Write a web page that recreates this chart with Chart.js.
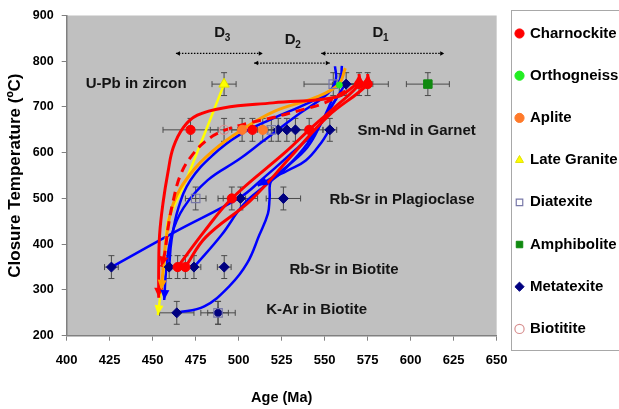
<!DOCTYPE html>
<html>
<head>
<meta charset="utf-8">
<script src="https://cdn.jsdelivr.net/npm/chart.js@4.4.0/dist/chart.umd.min.js"></script>
<style>
html,body{margin:0;padding:0;background:#fff;}
#wrap{width:619px;height:409px;position:relative;}
canvas{display:block;}
</style>
</head>
<body>
<div id="wrap"><canvas id="c" width="619" height="409"></canvas></div>
<script>
// ---------------- DATA (age in Ma, closure temperature in °C) ----------------
const ageTicks = [400, 425, 450, 475, 500, 525, 550, 575, 600, 625, 650];
const tempTicks = [200, 300, 400, 500, 600, 700, 800, 900];
const tempErr = 25;

const charnockiteAge  = [472, 508, 541, 570, 575, 496, 464.5, 469];
const charnockiteTemp = [650, 650, 650, 750, 750, 500, 350, 350];
const charnockiteErr  = [16, 8, 8, 8, 12, 8, 4, 4];

const orthogneissAge  = [558.5];
const orthogneissTemp = [748];
const orthogneissErr  = [4];

const apliteAge  = [502, 514];
const apliteTemp = [650, 650];
const apliteErr  = [6, 6];

const lateGraniteAge  = [491.5];
const lateGraniteTemp = [750];
const lateGraniteErr  = [7];

const diatexiteAge  = [519, 555, 475, 488];
const diatexiteTemp = [650, 750, 500, 250];
const diatexiteErr  = [8, 17, 6, 10];

const amphiboliteAge  = [610];
const amphiboliteTemp = [750];
const amphiboliteErr  = [12.5];

const metatexiteAge  = [523, 528, 533, 553, 562.5, 501, 526, 426, 459.6, 474, 491.6, 464, 488];
const metatexiteTemp = [650, 650, 650, 650, 750, 500, 500, 350, 350, 350, 350, 250, 250];
const metatexiteErr  = [6, 6, 6, 4, 6, 10, 10, 4, 4, 4, 4, 10, 6];

const biotititeAge  = [491.5];
const biotititeTemp = [650];
const biotititeErr  = [8];

// cooling paths: [age, temperature]
const pathRedA = [[568,748],[557,722],[520,709],[491,698],[476,682],[468,656],[462,612],[459,560],[456,490],[454,420],[453.5,345],[453.5,283]];
const pathRedDashed = [[562,735],[550,709],[534,691],[520,677],[507,666],[491,648],[481,626],[472,590],[466,550],[462,496],[459,437],[457,380],[455,351]];
const pathRedB = [[570,772],[570,750],[556,700],[541,650],[528,604],[496,500],[480,428],[464.5,350]];
const pathRedC = [[575,772],[575,750],[552,680],[530,590],[507,496],[481,416],[469,350]];
const pathOrange = [[562,785],[558,749],[544,720],[521,691],[501,648],[485,604],[472,554],[462,489],[458,416],[456,343],[455,300]];
const pathYellow = [[491.5,750],[470,545],[459,452],[456.5,350],[453,245]];
const pathBlueA = [[556,789],[556.5,760],[552,730],[534,682],[514,625],[500,585],[482,540],[468,480],[461,420],[458,350],[456.7,278]];
const pathBlueB = [[560,790],[559,760],[553,735],[540,708],[520,675],[500,638],[485,595],[472,540],[465,480],[461,410],[459.6,350]];
const pathBlueC = [[554,713],[548,665],[540,612],[528,570],[520,547],[511,528]];
const pathBlueLoop = [[553,652],[548,622],[539,583],[528,560],[519,539],[518,500],[517,467],[512,420],[505,359],[495,310],[480,264],[464,250]];
const pathBlueD = [[426,350],[463,427],[501,503],[513,540],[528,590],[545,650],[557,720]];
const pathBlueE = [[474,350],[490,420],[503,488],[516,530],[526,561],[540,620],[562,750]];

// deformation periods
const deformationNames = ['1', '2', '3'];
const deformationStart = [548, 509, 463.5];
const deformationEnd   = [619.5, 553, 514];
const deformationTemp  = [817, 796, 817];
const deformationLabelAge  = [581, 530, 489];
const deformationLabelTemp = [861, 846, 861];

// thermochronometer labels
const regionLabels = ['U-Pb in zircon', 'Sm-Nd in Garnet', 'Rb-Sr in Plagioclase', 'Rb-Sr in Biotite', 'K-Ar in Biotite'];
const regionAge  = [440.4, 603.5, 595, 561.3, 545.3];
const regionTemp = [750, 648, 496, 343, 256.5];

// ---------------- BUILD ----------------
const FONT = '"Liberation Sans", Arial, sans-serif';
const pts = (a, t) => a.map((v, i) => ({x: v, y: t[i]}));
const pairs = p => p.map(([x, y]) => ({x, y}));

function markers(label, age, temp, err, style, radius, bg, border, bw) {
  return {label, data: pts(age, temp), errX: err, pointStyle: style, pointRadius: radius,
    pointHoverRadius: radius, backgroundColor: bg, borderColor: border, pointBackgroundColor: bg,
    pointBorderColor: border, pointBorderWidth: bw, borderWidth: bw, showLine: false, order: 0};
}
function path(label, p, color, width, opts) {
  return Object.assign({label, data: pairs(p), showLine: true, borderColor: color, backgroundColor: color,
    borderWidth: width, pointRadius: 0, pointHoverRadius: 0, tension: 0.4, fill: false, order: 1}, opts || {});
}

const markerSets = [
  markers('Charnockite', charnockiteAge, charnockiteTemp, charnockiteErr, 'circle', 4.6, '#ff0000', '#ff0000', 1),
  markers('Orthogneiss', orthogneissAge, orthogneissTemp, orthogneissErr, 'circle', 3, '#22ee22', '#22ee22', 1),
  markers('Aplite', apliteAge, apliteTemp, apliteErr, 'circle', 4.6, '#ff7a2a', '#ff7a2a', 1),
  markers('Late Granite', lateGraniteAge, lateGraniteTemp, lateGraniteErr, 'triangle', 6, '#ffff00', '#e0e000', 1),
  markers('Diatexite', diatexiteAge, diatexiteTemp, diatexiteErr, 'rect', 6, 'rgba(255,255,255,0)', '#7878a8', 1.2),
  markers('Amphibolite', amphiboliteAge, amphiboliteTemp, amphiboliteErr, 'rect', 6, '#108a10', '#108a10', 1),
  markers('Metatexite', metatexiteAge, metatexiteTemp, metatexiteErr, 'rectRot', 5, '#000080', '#000080', 1),
  markers('Biotitite', biotititeAge, biotititeTemp, biotititeErr, 'circle', 4.6, 'rgba(255,255,255,0)', '#d89090', 1.2)
];
const legendCount = markerSets.length;

const pathSets = [
  path('pRedA', pathRedA, '#ff0000', 3, {arrowEnd: true}),
  path('pRedDash', pathRedDashed, '#ff0000', 3, {borderDash: [9, 6], arrowEnd: true}),
  path('pRedB', pathRedB, '#ff0000', 3, {arrowStart: true}),
  path('pRedC', pathRedC, '#ff0000', 3, {arrowStart: true}),
  path('pOrange', pathOrange, '#ffa000', 3, {arrowEnd: true}),
  path('pYellow', pathYellow, '#ffff00', 2.5, {arrowEnd: true, tension: 0.2}),
  path('pBlueA', pathBlueA, '#0000ff', 2.5, {arrowEnd: true}),
  path('pBlueB', pathBlueB, '#0000ff', 2.5),
  path('pBlueC', pathBlueC, '#0000ff', 2.5, {arrowEnd: true}),
  path('pBlueLoop', pathBlueLoop, '#0000ff', 2.5),
  path('pBlueD', pathBlueD, '#0000ff', 2.5),
  path('pBlueE', pathBlueE, '#0000ff', 2.5)
];

const periodSets = deformationNames.map((n, i) => ({
  label: 'D' + n, data: [{x: deformationStart[i], y: deformationTemp[i]}, {x: deformationEnd[i], y: deformationTemp[i]}],
  showLine: true, borderColor: '#000', borderWidth: 1.3, borderDash: [1.5, 1.5], pointRadius: 0,
  tension: 0, arrowBoth: true, order: 2
}));

// ---------------- PLUGINS ----------------
function arrowHead(ctx, tx, ty, dx, dy, color, len, w) {
  const L = Math.hypot(dx, dy) || 1; const ux = dx / L, uy = dy / L;
  const bx = tx - ux * len, by = ty - uy * len;
  ctx.fillStyle = color;
  ctx.beginPath(); ctx.moveTo(tx, ty);
  ctx.lineTo(bx - uy * w, by + ux * w); ctx.lineTo(bx + uy * w, by - ux * w);
  ctx.closePath(); ctx.fill();
}

const LEGEND_MARKER_X = 519.5, LEGEND_FIRST_Y = 33.5;
const decor = {
  id: 'decor',
  afterLayout(chart) {
    const lg = chart.legend;
    if (!lg) return;
    const lab = chart.options.plugins.legend.labels;
    const nl = LEGEND_MARKER_X - lab.boxWidth / 2 - lab.padding;
    const nt = LEGEND_FIRST_Y - lab.font.size / 2 - lab.padding;
    lg.right += nl - lg.left; lg.left = nl;
    lg.bottom += nt - lg.top; lg.top = nt;
  },
  beforeDraw(chart) {
    const {ctx, chartArea: a} = chart;
    ctx.save(); ctx.fillStyle = '#c0c0c0';
    ctx.fillRect(a.left, a.top, a.right - a.left, a.bottom - a.top);
    ctx.restore();
  },
  beforeDatasetsDraw(chart) {
    const {ctx} = chart; const xs = chart.scales.x, ys = chart.scales.y;
    ctx.save(); ctx.strokeStyle = '#4a4a4a'; ctx.lineWidth = 1;
    chart.data.datasets.forEach(ds => {
      if (!ds.errX) return;
      ds.data.forEach((p, i) => {
        const e = ds.errX[i];
        const x0 = xs.getPixelForValue(p.x - e), x1 = xs.getPixelForValue(p.x + e);
        const px = xs.getPixelForValue(p.x), py = ys.getPixelForValue(p.y);
        const y0 = ys.getPixelForValue(p.y - tempErr), y1 = ys.getPixelForValue(p.y + tempErr);
        const c = 3;
        ctx.beginPath();
        ctx.moveTo(x0, py); ctx.lineTo(x1, py);
        ctx.moveTo(x0, py - c); ctx.lineTo(x0, py + c);
        ctx.moveTo(x1, py - c); ctx.lineTo(x1, py + c);
        ctx.moveTo(px, y0); ctx.lineTo(px, y1);
        ctx.moveTo(px - c, y0); ctx.lineTo(px + c, y0);
        ctx.moveTo(px - c, y1); ctx.lineTo(px + c, y1);
        ctx.stroke();
      });
    });
    ctx.restore();
  },
  afterDatasetsDraw(chart) {
    const {ctx} = chart; const xs = chart.scales.x, ys = chart.scales.y;
    ctx.save();
    chart.data.datasets.forEach((ds, di) => {
      const meta = chart.getDatasetMeta(di);
      const els = meta.data;
      if (ds.arrowEnd && els.length > 1) {
        const p = els[els.length - 1], q = els[els.length - 2];
        let dx = p.x - (p.cp1x !== undefined ? p.cp1x : q.x), dy = p.y - (p.cp1y !== undefined ? p.cp1y : q.y);
        if (Math.hypot(dx, dy) < 0.5) { dx = p.x - q.x; dy = p.y - q.y; }
        arrowHead(ctx, p.x, p.y, dx, dy, ds.borderColor, 10, 4.5);
      }
      if (ds.arrowStart && els.length > 1) {
        const p = els[0], q = els[1];
        let dx = p.x - (p.cp2x !== undefined ? p.cp2x : q.x), dy = p.y - (p.cp2y !== undefined ? p.cp2y : q.y);
        if (Math.hypot(dx, dy) < 0.5) { dx = p.x - q.x; dy = p.y - q.y; }
        arrowHead(ctx, p.x, p.y, dx, dy, ds.borderColor, 8, 4);
      }
      if (ds.arrowBoth && els.length > 1) {
        const a = els[0], b = els[els.length - 1];
        arrowHead(ctx, a.x, a.y, a.x - b.x, a.y - b.y, '#000', 4, 2.2);
        arrowHead(ctx, b.x, b.y, b.x - a.x, b.y - a.y, '#000', 4, 2.2);
      }
    });
    ctx.fillStyle = '#141414'; ctx.textAlign = 'center'; ctx.textBaseline = 'middle';
    ctx.font = 'bold 15px ' + FONT;
    regionLabels.forEach((t, i) => ctx.fillText(t, xs.getPixelForValue(regionAge[i]), ys.getPixelForValue(regionTemp[i])));
    deformationNames.forEach((n, i) => {
      const x = xs.getPixelForValue(deformationLabelAge[i]), y = ys.getPixelForValue(deformationLabelTemp[i]);
      ctx.font = 'bold 15px ' + FONT; ctx.textAlign = 'center';
      ctx.fillText('D', x, y);
      ctx.font = 'bold 10px ' + FONT; ctx.textAlign = 'left';
      ctx.fillText(n, x + 5, y + 5);
    });
    ctx.restore();
  },
  afterDraw(chart) {
    const lg = chart.legend; if (!lg) return;
    const {ctx} = chart;
    const lab = chart.options.plugins.legend.labels;
    const fs = lab.font.size;
    const firstC = lg.top + lab.padding + fs / 2;
    const lastC = firstC + (legendCount - 1) * (fs + lab.padding);
    const left = lg.left + lab.padding + lab.boxWidth / 2 - 8.5;
    ctx.save(); ctx.strokeStyle = '#a8a8a8'; ctx.lineWidth = 1;
    ctx.strokeRect(Math.round(left) + 0.5, Math.round(firstC - 23.5) + 0.5, 200, Math.round(lastC + 21 - (firstC - 23.5)));
    ctx.restore();
  }
};

// ---------------- CHART ----------------
new Chart(document.getElementById('c'), {
  type: 'scatter',
  data: {datasets: [...markerSets, ...pathSets, ...periodSets]},
  options: {
    responsive: false, animation: false, devicePixelRatio: 1,
    layout: {padding: {top: 12.5, left: 0, right: -16.7, bottom: 0}},
    scales: {
      x: {
        type: 'linear', min: 400, max: 650,
        afterBuildTicks: s => { s.ticks = ageTicks.map(v => ({value: v})); },
        afterFit: s => { s.height = 73.3; },
        ticks: {font: {family: FONT, weight: 'bold', size: 13}, color: '#000', padding: 12, maxRotation: 0, autoSkip: false},
        grid: {drawOnChartArea: false, drawTicks: true, tickLength: 5, color: '#808080', lineWidth: 1},
        border: {color: '#808080', width: 1.5},
        title: {display: true, text: 'Age (Ma)', color: '#000', font: {family: FONT, weight: 'bold', size: 14.5}, padding: {top: 4, bottom: 2}}
      },
      y: {
        type: 'linear', min: 200, max: 900,
        afterBuildTicks: s => { s.ticks = tempTicks.map(v => ({value: v})); },
        afterFit: s => { s.width = 66.7; },
        ticks: {font: {family: FONT, weight: 'bold', size: 12.5}, color: '#000', padding: 8, autoSkip: false},
        grid: {drawOnChartArea: false, drawTicks: true, tickLength: 5, color: '#808080', lineWidth: 1},
        border: {color: '#808080', width: 1.5},
        title: {display: true, text: 'Closure Temperature (ºC)', color: '#000', font: {family: FONT, weight: 'bold', size: 17}, padding: {top: 5, bottom: 4}}
      }
    },
    plugins: {
      tooltip: {enabled: false},
      legend: {
        display: true, position: 'right', align: 'start',
        labels: {
          usePointStyle: true, boxWidth: 6, boxHeight: 6.5, padding: 27.2, color: '#000',
          font: {family: FONT, weight: 'bold', size: 15},
          filter: item => item.datasetIndex < legendCount
        }
      }
    }
  },
  plugins: [decor]
});
</script>
</body>
</html>
